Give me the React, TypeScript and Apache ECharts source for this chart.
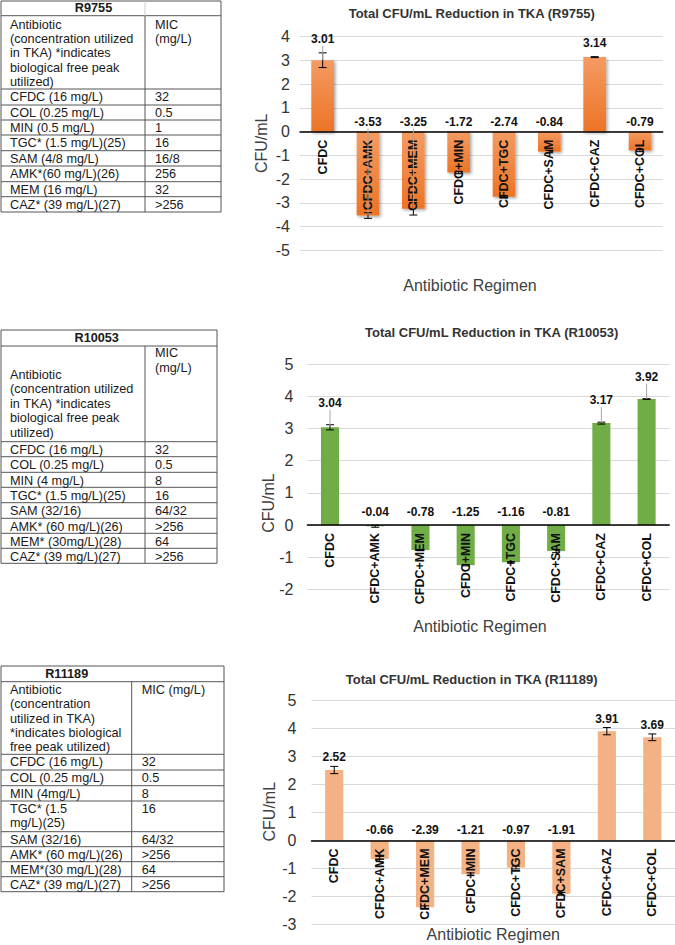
import React, { useEffect, useRef } from 'react';
import * as echarts from 'echarts';

// ---------------- DATA ----------------
const categories = ['CFDC', 'CFDC+AMK', 'CFDC+MEM', 'CFDC+MIN', 'CFDC+TGC', 'CFDC+SAM', 'CFDC+CAZ', 'CFDC+COL'];

const r9755Values = [3.01, -3.53, -3.25, -1.72, -2.74, -0.84, 3.14, -0.79];
const r9755Errors = [0.31, 0.12, 0.26, 0.05, 0.05, 0.05, 0.02, 0.05];
const r9755Leaders = [1, 1, 1, 0, 0, 0, 0, 0];

const r10053Values = [3.04, -0.04, -0.78, -1.25, -1.16, -0.81, 3.17, 3.92];
const r10053Errors = [0.08, 0.03, 0.02, 0.02, 0.02, 0.05, 0.03, 0.01];
const r10053Leaders = [1, 0, 0, 0, 0, 0, 1, 1];

const r11189Values = [2.52, -0.66, -2.39, -1.21, -0.97, -1.91, 3.91, 3.69];
const r11189Errors = [0.13, 0.1, 0.05, 0.05, 0.05, 0.05, 0.13, 0.12];
const r11189Leaders = [0, 0, 0, 0, 0, 0, 0, 0];

const r9755YRange = [-5, 4];
const r10053YRange = [-2, 5];
const r11189YRange = [-3, 5];

const chartTitles = [
  'Total CFU/mL Reduction in TKA (R9755)',
  'Total CFU/mL Reduction in TKA (R10053)',
  'Total CFU/mL Reduction in TKA (R11189)',
];
const yAxisName = 'CFU/mL';
const xAxisName = 'Antibiotic Regimen';

const r9755Header = ['Antibiotic\n(concentration utilized\nin TKA) *indicates\nbiological free peak\nutilized)', 'MIC\n(mg/L)'];
const r9755Rows = [
  ['CFDC (16 mg/L)', '32'],
  ['COL (0.25 mg/L)', '0.5'],
  ['MIN (0.5 mg/L)', '1'],
  ['TGC* (1.5 mg/L)(25)', '16'],
  ['SAM (4/8 mg/L)', '16/8'],
  ['AMK*(60 mg/L)(26)', '256'],
  ['MEM (16 mg/L)', '32'],
  ['CAZ* (39 mg/L)(27)', '>256'],
];

const r10053Header = ['Antibiotic\n(concentration utilized\nin TKA) *indicates\nbiological free peak\nutilized)', 'MIC\n(mg/L)'];
const r10053Rows = [
  ['CFDC (16 mg/L)', '32'],
  ['COL (0.25 mg/L)', '0.5'],
  ['MIN (4 mg/L)', '8'],
  ['TGC* (1.5 mg/L)(25)', '16'],
  ['SAM (32/16)', '64/32'],
  ['AMK* (60 mg/L)(26)', '>256'],
  ['MEM* (30mg/L)(28)', '64'],
  ['CAZ* (39 mg/L)(27)', '>256'],
];

const r11189Header = ['Antibiotic\n(concentration\nutilized in TKA)\n*indicates biological\nfree peak utilized)', 'MIC (mg/L)'];
const r11189Rows = [
  ['CFDC (16 mg/L)', '32'],
  ['COL (0.25 mg/L)', '0.5'],
  ['MIN (4mg/L)', '8'],
  ['TGC* (1.5\nmg/L)(25)', '16'],
  ['SAM (32/16)', '64/32'],
  ['AMK* (60 mg/L)(26)', '>256'],
  ['MEM*(30 mg/L)(28)', '64'],
  ['CAZ* (39 mg/L)(27)', '>256'],
];

// ---------------- LAYOUT / STYLE ----------------
const FONT = '"Liberation Sans", Arial, Helvetica, sans-serif';
const BORDER = '#555';

type TableCfg = {
  name: string; header: string[]; rows: string[][];
  left: number; right: number; col: number; top: number; titleBottom: number;
  rowLines: number[]; titleX: number; h1Top: number; h2Top: number; lineH: number;
  x1: number; x2: number; titleDivider: boolean;
};

const tableCfgs: TableCfg[] = [
  {
    name: 'R9755', header: r9755Header, rows: r9755Rows,
    left: 1, right: 221, col: 145, top: 1, titleBottom: 15.7,
    rowLines: [89, 105, 120, 135, 150.7, 166, 181.7, 196.7, 212],
    titleX: 93.5, h1Top: 17.9, h2Top: 17.9, lineH: 14.2, x1: 10, x2: 155, titleDivider: true,
  },
  {
    name: 'R10053', header: r10053Header, rows: r10053Rows,
    left: 1, right: 217, col: 145, top: 330, titleBottom: 346,
    rowLines: [441.7, 456.7, 472.3, 487.3, 502.7, 518.3, 533.3, 548.3, 563.3],
    titleX: 96.7, h1Top: 367.7, h2Top: 346.2, lineH: 14.5, x1: 10, x2: 155, titleDivider: false,
  },
  {
    name: 'R11189', header: r11189Header, rows: r11189Rows,
    left: 1, right: 224, col: 131.7, top: 666, titleBottom: 681.7,
    rowLines: [754.3, 770, 785.7, 801, 831.7, 846.7, 861.7, 876.7, 891.7],
    titleX: 66.7, h1Top: 682.9, h2Top: 682.9, lineH: 14.3, x1: 10, x2: 141.7, titleDivider: false,
  },
];

function hline(x1: number, y: number, x2: number, color = BORDER) {
  return { type: 'line', shape: { x1, y1: y, x2, y2: y }, style: { stroke: color, lineWidth: 1 }, silent: true };
}
function vline(x: number, y1: number, y2: number, color = BORDER) {
  return { type: 'line', shape: { x1: x, y1, x2: x, y2 }, style: { stroke: color, lineWidth: 1 }, silent: true };
}
function txt(x: number, y: number, text: string, opts: any = {}) {
  const align = opts.align || 'left';
  const valign = opts.valign || 'top';
  return {
    type: 'text', x, y, rotation: opts.rotation || 0, silent: true,
    style: {
      text, fill: opts.color || '#1a1a1a', fontSize: opts.size || 12.7, fontFamily: FONT,
      fontWeight: opts.weight || 'normal', lineHeight: opts.lineH || 14.3,
      textAlign: align, textVerticalAlign: valign, align, verticalAlign: valign,
    },
  };
}

function tableGraphics(c: TableCfg) {
  const els: any[] = [];
  const bottom = c.rowLines[c.rowLines.length - 1];
  els.push({
    type: 'rect', silent: true,
    shape: { x: c.left, y: c.top, width: c.right - c.left, height: bottom - c.top },
    style: { fill: '#fff', stroke: BORDER, lineWidth: 1 },
  });
  els.push(hline(c.left, c.titleBottom, c.right));
  c.rowLines.slice(0, -1).forEach((y) => els.push(hline(c.left, y, c.right)));
  els.push(vline(c.col, c.titleBottom, bottom));
  if (c.titleDivider) els.push(vline(c.col, c.top, c.titleBottom, '#cfcfcf'));
  els.push(txt(c.titleX, (c.top + c.titleBottom) / 2, c.name, { align: 'center', valign: 'middle', weight: 'bold' }));
  els.push(txt(c.x1, c.h1Top, c.header[0], { lineH: c.lineH }));
  els.push(txt(c.x2, c.h2Top, c.header[1], { lineH: c.lineH }));
  c.rows.forEach((r, i) => {
    const y = c.rowLines[i] + 1;
    els.push(txt(c.x1, y, r[0], { lineH: c.lineH }));
    els.push(txt(c.x2, y, r[1], { lineH: c.lineH }));
  });
  return els;
}

const chartCfgs = [
  {
    values: r9755Values, errors: r9755Errors, leaders: r9755Leaders, range: r9755YRange,
    grid: { left: 300, top: 36.7, width: 362.7, height: 213.7 },
    color: new echarts.graphic.LinearGradient(0, 0, 0, 1, [
      { offset: 0, color: '#F49B63' },
      { offset: 1, color: '#EC7426' },
    ]),
    shadow: true, barWidth: '50%', posGap: 14, negGap: 10, labelMargin: 10,
    title: { x: 471.7, y: 13.3 }, yName: { x: 261.7, y: 143.3 }, xName: { x: 470, y: 285 },
  },
  {
    values: r10053Values, errors: r10053Errors, leaders: r10053Leaders, range: r10053YRange,
    grid: { left: 307.4, top: 364.3, width: 361.8, height: 225 },
    color: '#70AD47', shadow: false, barWidth: '40%', posGap: 22, negGap: 13, labelMargin: 14,
    title: { x: 491.7, y: 332.3 }, yName: { x: 268, y: 503 }, xName: { x: 480, y: 626.7 },
  },
  {
    values: r11189Values, errors: r11189Errors, leaders: r11189Leaders, range: r11189YRange,
    grid: { left: 311.5, top: 700.7, width: 363.5, height: 223.6 },
    color: '#F4B183', shadow: false, barWidth: '40%', posGap: 9, negGap: 10, labelMargin: 15,
    title: { x: 471.7, y: 679.3 }, yName: { x: 269.3, y: 811.7 }, xName: { x: 493.3, y: 934.3 },
  },
];

function buildOption() {
  const grids: any[] = [];
  const xAxes: any[] = [];
  const yAxes: any[] = [];
  const series: any[] = [];
  const graphics: any[] = [];

  tableCfgs.forEach((t) => graphics.push(...tableGraphics(t)));

  chartCfgs.forEach((c, i) => {
    grids.push({ ...c.grid, containLabel: false });
    xAxes.push({
      type: 'category', gridIndex: i, data: categories, z: 5,
      axisLine: { show: true, onZero: true, lineStyle: { color: '#000', width: 1.5 } },
      axisTick: { show: false },
      splitLine: { show: false },
      axisLabel: { show: false },
    });
    yAxes.push({
      type: 'value', gridIndex: i, min: c.range[0], max: c.range[1], interval: 1,
      axisLine: { show: false }, axisTick: { show: false },
      splitLine: { show: true, lineStyle: { color: '#d9d9d9', width: 1 } },
      axisLabel: { fontSize: 16, color: '#333', fontFamily: FONT, margin: c.labelMargin },
    });
    series.push({
      type: 'bar', xAxisIndex: i, yAxisIndex: i, data: c.values, barWidth: c.barWidth, z: 2,
      itemStyle: c.shadow
        ? { color: c.color, shadowColor: 'rgba(0,0,0,0.35)', shadowBlur: 3, shadowOffsetX: 1.5, shadowOffsetY: 1.5 }
        : { color: c.color },
    });
    const posGap = c.posGap;
    const negGap = c.negGap;
    series.push({
      type: 'custom', xAxisIndex: i, yAxisIndex: i, z: 8, silent: true,
      encode: { x: 0, y: 1 },
      data: c.values.map((v, j) => [j, v, c.errors[j], c.leaders[j]]),
      renderItem: (params: any, api: any) => {
        const j = api.value(0);
        const v = api.value(1);
        const e = api.value(2);
        const lead = api.value(3);
        const pv = api.coord([j, v]);
        const cx = pv[0];
        const yTop = api.coord([j, v + e])[1];
        const yBot = api.coord([j, v - e])[1];
        const y0 = api.coord([j, 0])[1];
        const cap = 4;
        const ls = { stroke: '#000', lineWidth: 1 };
        const children: any[] = [];
        children.push({
          type: 'text', x: cx, y: y0 + 8, rotation: Math.PI / 2,
          style: {
            text: categories[j], fill: '#111', fontSize: 12.5, fontWeight: 'bold', fontFamily: FONT,
            textAlign: 'right', textVerticalAlign: 'middle', align: 'right', verticalAlign: 'middle',
          },
        });
        children.push(
          { type: 'line', shape: { x1: cx, y1: yTop, x2: cx, y2: yBot }, style: ls },
          { type: 'line', shape: { x1: cx - cap, y1: yTop, x2: cx + cap, y2: yTop }, style: ls },
          { type: 'line', shape: { x1: cx - cap, y1: yBot, x2: cx + cap, y2: yBot }, style: ls },
        );
        const ly = v >= 0 ? yTop - posGap : y0 - negGap;
        if (lead) {
          children.push({
            type: 'line', shape: { x1: cx, y1: ly + 7, x2: cx, y2: pv[1] },
            style: { stroke: '#a6a6a6', lineWidth: 1 },
          });
        }
        children.push({
          type: 'text', x: cx, y: ly,
          style: {
            text: v.toFixed(2), fill: '#111', fontSize: 12, fontWeight: 'bold', fontFamily: FONT,
            textAlign: 'center', textVerticalAlign: 'middle', align: 'center', verticalAlign: 'middle',
          },
        });
        return { type: 'group', children };
      },
    });

    graphics.push(txt(c.title.x, c.title.y, chartTitles[i], { align: 'center', valign: 'middle', weight: 'bold', size: 13, color: '#333' }));
    graphics.push(txt(c.yName.x, c.yName.y, yAxisName, { align: 'center', valign: 'middle', size: 16, color: '#404040', rotation: Math.PI / 2 }));
    graphics.push(txt(c.xName.x, c.xName.y, xAxisName, { align: 'center', valign: 'middle', size: 16, color: '#404040' }));
  });

  return {
    animation: false,
    backgroundColor: '#fff',
    grid: grids,
    xAxis: xAxes,
    yAxis: yAxes,
    series,
    graphic: { elements: graphics },
  };
}

export default function App() {
  const ref = useRef<HTMLDivElement>(null);
  useEffect(() => {
    document.body.style.margin = '0';
    if (!ref.current) return;
    const chart = echarts.init(ref.current, undefined, { renderer: 'svg' });
    chart.setOption(buildOption() as any);
    return () => chart.dispose();
  }, []);
  return <div ref={ref} style={{ width: 675, height: 945, background: '#fff' }} />;
}
